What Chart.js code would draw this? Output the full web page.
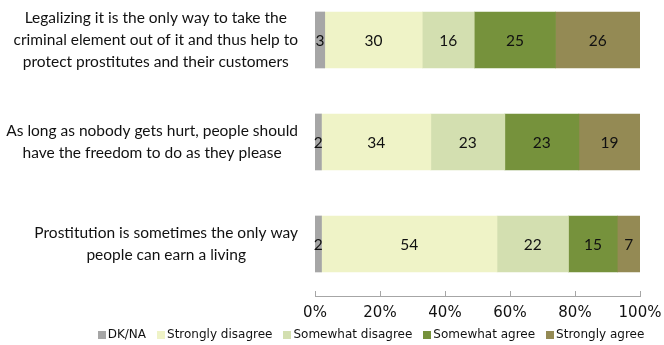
<!DOCTYPE html>
<html>
<head>
<meta charset="utf-8">
<script src="https://cdn.jsdelivr.net/npm/chart.js@4/dist/chart.umd.min.js"></script>
<style>
  html, body { margin: 0; padding: 0; background: #fff; }
  #wrap { width: 664px; height: 345px; position: relative; }
</style>
</head>
<body>
<div id="wrap"><canvas id="c" width="664" height="345"></canvas></div>
<script>
const categories = [
  ["Legalizing it is the only way to take the", "criminal element out of it and thus help to", "protect prostitutes and their customers"],
  ["As long as nobody gets hurt, people should", "have the freedom to do as they please"],
  ["Prostitution is sometimes the only way", "people can earn a living"]
];
const seriesNames = ["DK/NA", "Strongly disagree", "Somewhat disagree", "Somewhat agree", "Strongly agree"];
const dkna             = [3, 2, 2];
const stronglyDisagree = [30, 34, 54];
const somewhatDisagree = [16, 23, 22];
const somewhatAgree    = [25, 23, 15];
const stronglyAgree    = [26, 19, 7];
const tickLabels = ["0%", "20%", "40%", "60%", "80%", "100%"];

const seriesValues = [dkna, stronglyDisagree, somewhatDisagree, somewhatAgree, stronglyAgree];
const colors = ["#a6a6a6", "#eff3c7", "#d3dfb0", "#76923c", "#948a54"];

// 100% stacked: normalise each category to its total
const totals = categories.map((_, j) => seriesValues.reduce((s, arr) => s + arr[j], 0));

const datasets = seriesValues.map((vals, i) => ({
  label: seriesNames[i],
  data: vals.map((v, j) => ({ x: v / totals[j] * 100, y: j })),
  rawValues: vals,
  backgroundColor: colors[i],
  borderWidth: 0,
  barThickness: 56
}));

const LABEL_FONT = "Lato, 'Open Sans', sans-serif";

const valueLabels = {
  id: 'valueLabels',
  afterDatasetsDraw(chart) {
    const ctx = chart.ctx;
    ctx.save();
    ctx.font = "15.5px " + LABEL_FONT;
    ctx.fillStyle = "#111";
    ctx.textAlign = "center";
    ctx.textBaseline = "middle";
    chart.data.datasets.forEach((ds, i) => {
      const meta = chart.getDatasetMeta(i);
      meta.data.forEach((el, j) => {
        const x = (el.x + el.base) / 2;
        ctx.fillText(String(ds.rawValues[j]), x, el.y + 1);
      });
    });
    ctx.restore();
  }
};

const catLabels = {
  id: 'catLabels',
  afterDraw(chart) {
    const ctx = chart.ctx;
    const y = chart.scales.y;
    ctx.save();
    ctx.font = "15.5px " + LABEL_FONT;
    ctx.fillStyle = "#111";
    ctx.textAlign = "center";
    ctx.textBaseline = "middle";
    const lineH = 22;
    const right = chart.chartArea.left - 17;
    categories.forEach((lines, j) => {
      const cy = y.getPixelForValue(j);
      const widest = Math.max(...lines.map(l => ctx.measureText(l).width));
      const cx = right - widest / 2;
      const startY = cy - (lines.length - 1) * lineH / 2;
      lines.forEach((l, k) => ctx.fillText(l, cx, startY + k * lineH));
    });
    ctx.restore();
  }
};

const tickMarks = {
  id: 'tickMarks',
  afterDraw(chart) {
    const ctx = chart.ctx;
    const x = chart.scales.x;
    const bottom = chart.chartArea.bottom;
    ctx.save();
    ctx.strokeStyle = "#a6a6a6";
    ctx.lineWidth = 1;
    x.ticks.forEach((t, i) => {
      const px = Math.round(x.getPixelForTick(i)) + 0.5;
      ctx.beginPath();
      ctx.moveTo(px, bottom - 5);
      ctx.lineTo(px, bottom);
      ctx.stroke();
    });
    ctx.restore();
  }
};

// compact legend (box, 2px gap, text) under the axis
const bottomLegend = {
  id: 'bottomLegend',
  afterDraw(chart) {
    const ctx = chart.ctx;
    ctx.save();
    ctx.font = "12px 'DejaVu Sans'";
    ctx.textBaseline = "middle";
    ctx.textAlign = "left";
    const box = 8, gap = 2, spacing = 11;
    const items = chart.data.datasets.map(ds => ({
      text: ds.label, color: ds.backgroundColor, w: ctx.measureText(ds.label).width
    }));
    const total = items.reduce((s, it) => s + box + gap + it.w, 0) + spacing * (items.length - 1);
    let x = 371 - total / 2;
    const cy = chart.height - 10;
    items.forEach(it => {
      ctx.fillStyle = it.color;
      ctx.fillRect(Math.round(x), Math.round(cy - box / 2), box, box);
      ctx.fillStyle = "#111";
      ctx.fillText(it.text, x + box + gap, cy);
      x += box + gap + it.w + spacing;
    });
    ctx.restore();
  }
};

new Chart(document.getElementById('c'), {
  type: 'bar',
  data: { datasets },
  options: {
    indexAxis: 'y',
    responsive: false,
    animation: false,
    layout: { padding: { top: 0, right: 24, left: 0, bottom: 27 } },
    plugins: {
      legend: { display: false },
      tooltip: { enabled: false }
    },
    scales: {
      x: {
        type: 'linear',
        stacked: true,
        min: 0,
        max: 100,
        ticks: {
          stepSize: 20,
          color: '#111',
          padding: 8,
          font: { family: "'DejaVu Sans'", size: 15 },
          callback: (v, i) => tickLabels[i]
        },
        grid: { display: false, drawTicks: false },
        border: { display: true, color: '#a6a6a6', width: 1 },
        afterFit(scale) {
          scale.height = 22;
          scale.paddingRight = 0;
          scale.paddingLeft = 0;
        }
      },
      y: {
        type: 'linear',
        stacked: true,
        reverse: true,
        offset: false,
        min: -0.392,
        max: 2.51,
        ticks: { display: false },
        grid: { display: false, drawTicks: false },
        border: { display: false },
        afterFit(scale) { scale.width = 315; }
      }
    }
  },
  plugins: [valueLabels, catLabels, tickMarks, bottomLegend]
});
</script>
</body>
</html>
